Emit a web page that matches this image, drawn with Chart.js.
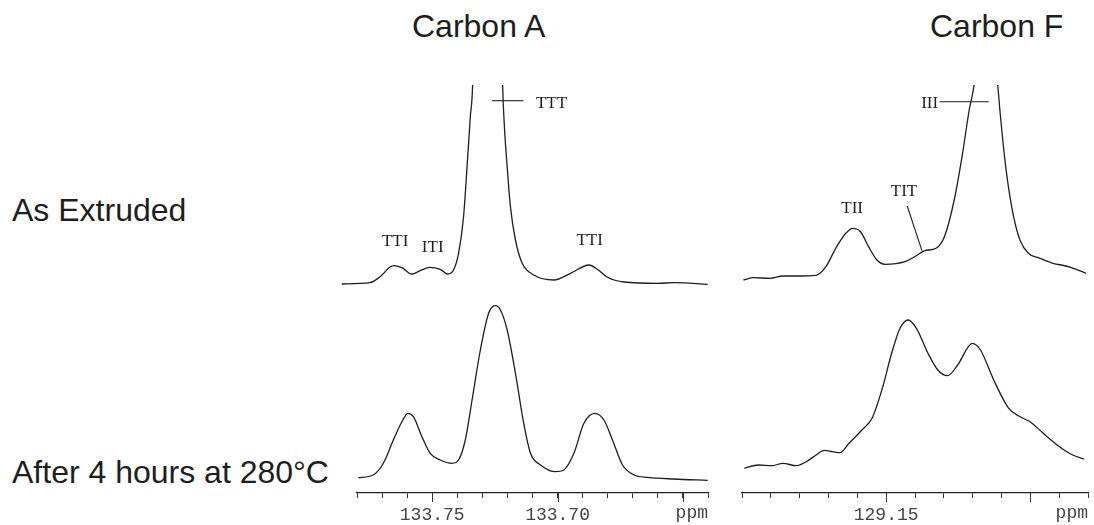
<!DOCTYPE html>
<html>
<head>
<meta charset="utf-8">
<script src="https://cdn.jsdelivr.net/npm/chart.js@4.4.1/dist/chart.umd.min.js"></script>
<style>
  body { margin: 0; background: #fff; width: 1094px; height: 525px; position: relative; overflow: hidden; }
  .lbl { position: absolute; font-family: "Liberation Sans", Arial, sans-serif; font-size: 32px; line-height: 1; color: #1e1e1e; white-space: nowrap; }
  canvas { position: absolute; top: 0; }
</style>
</head>
<body>
<div class="lbl" style="left:412px; top:10px;">Carbon A</div>
<div class="lbl" style="left:930px; top:10px;">Carbon F</div>
<div class="lbl" style="left:12px; top:194px;">As Extruded</div>
<div class="lbl" style="left:12px; top:456px;">After 4 hours at 280°C</div>
<canvas id="chartA" width="390" height="525" style="left:330px"></canvas>
<canvas id="chartF" width="369" height="525" style="left:725px"></canvas>
<script>
// Carbon A - as extruded (upper trace), intensity in arbitrary units
const ppmA_top = [133.7861, 133.7748, 133.7708, 133.7655, 133.7621, 133.7581, 133.7548, 133.7511, 133.7468, 133.7439,
  133.7415, 133.7395, 133.7375, 133.7361, 133.7348, 133.7339, 133.7326, 133.7304, 133.7278, 133.7252,
  133.7230, 133.7219, 133.7212, 133.7201, 133.7188, 133.7168, 133.7141, 133.7095, 133.7015, 133.6948,
  133.6875, 133.6841, 133.6801, 133.6735, 133.6601, 133.6535, 133.6401];
const intA_top = [209, 210.3, 216.3, 227.3, 225.3, 219, 222.3, 225.7, 223.7, 219,
  223, 239.7, 276.3, 326.3, 376.3, 407, 560, 800, 1000, 800,
  560, 407, 366.3, 326.3, 286.3, 253, 229.7, 218, 213, 219.7,
  228, 223.7, 215.7, 211, 209.7, 210.3, 208.7];

// Carbon A - after 4 hours at 280°C (lower trace)
const ppmA_bot = [133.7795, 133.7735, 133.7695, 133.7655, 133.7621, 133.7597, 133.7575, 133.7541, 133.7508, 133.7468,
  133.7421, 133.7395, 133.7368, 133.7341, 133.7308, 133.7275, 133.7248, 133.7228, 133.7201, 133.7168,
  133.7135, 133.7108, 133.7068, 133.7008, 133.6975, 133.6935, 133.6895, 133.6852, 133.6815, 133.6781,
  133.6741, 133.6695, 133.6641, 133.6535, 133.6401];
const intA_bot = [15.3, 18, 29.7, 53, 71.3, 79.7, 76.3, 56.3, 39.7, 33,
  29.7, 33, 53, 93, 143, 179.7, 187.3, 183, 163, 119.7,
  69.7, 39.7, 28, 21.3, 23, 39.7, 69.7, 79.7, 73, 53,
  28, 18, 15.7, 14, 12.7];

// Carbon F - as extruded (upper trace)
const ppmF_top = [129.1995, 129.1960, 129.1903, 129.1858, 129.1812, 129.1743, 129.1709, 129.1675, 129.1640, 129.1615,
  129.1589, 129.1561, 129.1532, 129.1503, 129.1435, 129.1401, 129.1366, 129.1327, 129.1298, 129.1264,
  129.1235, 129.1212, 129.1195, 129.1180, 129.1167, 129.1154, 129.1140, 129.1126, 129.1113, 129.1098,
  129.1081, 129.1058, 129.1036, 129.1007, 129.0967, 129.0921, 129.0876, 129.0841, 129.0807];
const intF_top = [213, 215.3, 214.7, 217, 217, 217.7, 226.3, 244.7, 259.7, 264.7,
  261.3, 246.3, 233, 228.7, 231.3, 236.3, 242.3, 244.7, 256.3, 293,
  339.7, 383, 408, 450, 495, 520, 505, 460, 408, 359.7,
  316.3, 276.3, 253, 239.7, 234.7, 229.7, 227, 223.7, 219.7];

// Carbon F - after 4 hours at 280°C (lower trace)
const ppmF_bot = [129.1992, 129.1943, 129.1897, 129.1858, 129.1812, 129.1777, 129.1743, 129.1715, 129.1686, 129.1660,
  129.1629, 129.1584, 129.1549, 129.1515, 129.1481, 129.1452, 129.1424, 129.1395, 129.1355, 129.1321,
  129.1287, 129.1252, 129.1201, 129.1173, 129.1127, 129.1075, 129.1036, 129.1001, 129.0955, 129.0899,
  129.0853, 129.0813];
const intF_bot = [24.7, 28, 27.3, 29.7, 27.3, 31.3, 38, 42.7, 41.3, 40.3,
  49.7, 63, 74.7, 103, 139.7, 164.7, 173, 164.7, 139.7, 123,
  117.3, 128, 149.7, 143, 113, 84.7, 76.3, 71.3, 59.7, 46.3,
  38, 34];

// axes
const rangeA = [133.64, 133.78];
const majorA = [133.75, 133.70, 133.65];
const tickLabelsA = [133.75, 133.70];
const rangeF = [129.08, 129.20];
const majorF = [129.15, 129.10];
const tickLabelsF = [129.15];

// peak assignments: [text, ppm, intensity]
const peaksA = [['TTI', 133.7648, 251], ['ITI', 133.7498, 245.5], ['TTT', 133.7024, 389.7], ['TTI', 133.6872, 252]];
const peaksF = [['III', 133.0, 0], ['TII', 129.1618, 284.7], ['TIT', 129.1438, 301.3]];
peaksF[0] = ['III', 129.1349, 389.7];
// leader lines: [ppm1, int1, ppm2, int2]
const leadersA = [[133.7261, 392.3, 133.7136, 392.3]];
const leadersF = [[129.1315, 391.3, 129.1144, 391.3], [129.1427, 287, 129.1376, 242.3]];

const ink = '#1e1e1e';

const spectrumDecor = {
  id: 'spectrumDecor',
  afterDraw(chart, args, opts) {
    const { ctx, chartArea } = chart;
    const xs = chart.scales.x, ys = chart.scales.y;
    ctx.save();
    // longer major ticks
    ctx.strokeStyle = '#333';
    ctx.lineWidth = 1;
    opts.major.forEach(v => {
      const px = Math.round(xs.getPixelForValue(v)) + 0.5;
      ctx.beginPath();
      ctx.moveTo(px, chartArea.bottom);
      ctx.lineTo(px, chartArea.bottom + 9);
      ctx.stroke();
    });
    // ppm unit at the end of the axis
    ctx.font = '18px "Liberation Mono", "Courier New", monospace';
    ctx.fillStyle = '#444';
    ctx.textAlign = 'right';
    ctx.textBaseline = 'middle';
    ctx.fillText('ppm', chartArea.right, chartArea.bottom + 20);
    // peak labels
    ctx.font = '17px "Liberation Serif", "Times New Roman", serif';
    ctx.fillStyle = ink;
    ctx.textAlign = 'center';
    opts.peaks.forEach(([t, p, v]) => {
      ctx.fillText(t, xs.getPixelForValue(p), ys.getPixelForValue(v));
    });
    ctx.strokeStyle = ink;
    ctx.lineWidth = 1.1;
    opts.leaders.forEach(([p1, v1, p2, v2]) => {
      ctx.beginPath();
      ctx.moveTo(xs.getPixelForValue(p1), ys.getPixelForValue(v1));
      ctx.lineTo(xs.getPixelForValue(p2), ys.getPixelForValue(v2));
      ctx.stroke();
    });
    ctx.restore();
  }
};

function toPoints(ppm, vals) {
  return ppm.map((p, i) => ({ x: p, y: vals[i] }));
}

function makeChart(id, c) {
  return new Chart(document.getElementById(id), {
    type: 'line',
    data: {
      datasets: [
        { data: toPoints(c.ppmTop, c.intTop), clip: c.clipTop },
        { data: toPoints(c.ppmBot, c.intBot) }
      ]
    },
    options: {
      responsive: false,
      animation: false,
      events: [],
      layout: { padding: { left: c.padLeft, right: c.padRight, top: 85, bottom: 0 } },
      elements: {
        line: { borderColor: ink, borderWidth: 1.3, cubicInterpolationMode: 'monotone', fill: false },
        point: { radius: 0 }
      },
      plugins: {
        legend: { display: false },
        tooltip: { enabled: false },
        spectrumDecor: { major: c.major, peaks: c.peaks, leaders: c.leaders }
      },
      scales: {
        x: {
          type: 'linear',
          reverse: true,
          min: c.range[0],
          max: c.range[1],
          afterFit: s => { s.height = 32; },
          border: { display: true, color: '#222', width: 1.3 },
          grid: { drawOnChartArea: false, drawTicks: true, tickLength: 5, color: '#333' },
          ticks: {
            stepSize: 0.01,
            autoSkip: false,
            maxRotation: 0,
            padding: 6,
            color: '#444',
            font: { family: '"Liberation Mono", "Courier New", monospace', size: 18 },
            callback: v => c.labels.some(l => Math.abs(l - v) < 1e-6) ? v.toFixed(2) : ''
          }
        },
        y: { display: false, min: 0, max: 408 }
      }
    },
    plugins: [spectrumDecor]
  });
}

makeChart('chartA', {
  ppmTop: ppmA_top, intTop: intA_top, ppmBot: ppmA_bot, intBot: intA_bot,
  clipTop: { left: 20, top: 0, right: 0, bottom: 0 },
  range: rangeA, major: majorA, labels: tickLabelsA, peaks: peaksA, leaders: leadersA,
  padLeft: 27, padRight: 12
});

makeChart('chartF', {
  ppmTop: ppmF_top, intTop: intF_top, ppmBot: ppmF_bot, intBot: intF_bot,
  clipTop: { left: 0, top: 0, right: 0, bottom: 0 },
  range: rangeF, major: majorF, labels: tickLabelsF, peaks: peaksF, leaders: leadersF,
  padLeft: 17, padRight: 2
});
</script>
</body>
</html>
